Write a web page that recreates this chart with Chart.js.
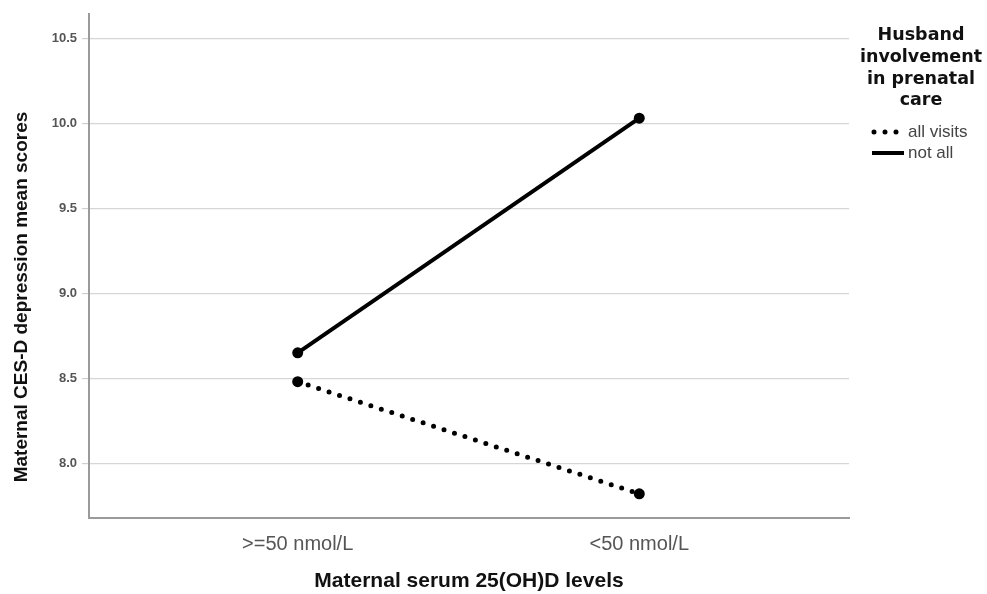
<!DOCTYPE html>
<html>
<head>
<meta charset="utf-8">
<script src="https://cdn.jsdelivr.net/npm/chart.js@4.4.1/dist/chart.umd.min.js"></script>
<style>
  html, body { margin: 0; padding: 0; background: #ffffff; }
  #wrap { width: 987px; height: 594px; }
</style>
</head>
<body>
<div id="wrap"><canvas id="c" width="987" height="594"></canvas></div>
<script>
// ---- data ----
const categories = ['>=50 nmol/L', '<50 nmol/L'];
const seriesNames = ['all visits', 'not all'];
const allVisits = [8.48, 7.82];
const notAll = [8.65, 10.03];
const yTicks = [8.0, 8.5, 9.0, 9.5, 10.0, 10.5];
const legendTitle = ['Husband', 'involvement', 'in prenatal', 'care'];
const xTitle = 'Maternal serum 25(OH)D levels';
const yTitle = 'Maternal CES-D depression mean scores';

const toPoints = arr => arr.map((v, i) => ({ x: i, y: v }));

const dottedStyle = { borderDash: [0, 11], borderWidth: 5, borderCapStyle: 'round' };
const solidStyle = { borderDash: [], borderWidth: 4, borderCapStyle: 'butt' };

const customText = {
  id: 'customText',
  afterDraw(chart) {
    const ctx = chart.ctx;
    // y-axis title
    ctx.save();
    ctx.translate(22, 297);
    ctx.rotate(-Math.PI / 2);
    ctx.font = 'bold 19px "Liberation Sans", Arial, sans-serif';
    ctx.fillStyle = '#111';
    ctx.textAlign = 'center';
    ctx.textBaseline = 'middle';
    ctx.fillText(yTitle, 0, 0);
    ctx.restore();

    // legend
    ctx.save();
    ctx.font = 'bold 17.5px "DejaVu Sans", Verdana, sans-serif';
    ctx.fillStyle = '#111';
    ctx.textAlign = 'center';
    ctx.textBaseline = 'middle';
    const titleY = [35, 57, 79, 100];
    legendTitle.forEach((t, i) => ctx.fillText(t, 921, titleY[i]));

    const itemY = [132, 153];
    const styles = [dottedStyle, solidStyle];
    chart.data.datasets.forEach((ds, i) => {
      const st = styles[i];
      ctx.save();
      ctx.strokeStyle = '#000';
      ctx.lineWidth = st.borderWidth;
      ctx.lineCap = st.borderCapStyle;
      ctx.setLineDash(st.borderDash);
      ctx.beginPath();
      if (i === 0) {
        ctx.moveTo(874, itemY[i]); ctx.lineTo(903, itemY[i]);
      } else {
        ctx.moveTo(872, itemY[i]); ctx.lineTo(904, itemY[i]);
      }
      ctx.stroke();
      ctx.restore();
      ctx.font = '17px "Liberation Sans", Arial, sans-serif';
      ctx.fillStyle = '#444';
      ctx.textAlign = 'left';
      ctx.textBaseline = 'middle';
      ctx.fillText(ds.label, 908, itemY[i]);
    });
    ctx.restore();
  }
};

new Chart(document.getElementById('c'), {
  type: 'line',
  data: {
    datasets: [
      Object.assign({
        label: seriesNames[0],
        data: toPoints(allVisits),
        borderColor: '#000',
        backgroundColor: '#000',
        pointRadius: 5.5,
        pointBorderWidth: 0,
        pointBackgroundColor: '#000',
        tension: 0,
        fill: false
      }, dottedStyle),
      Object.assign({
        label: seriesNames[1],
        data: toPoints(notAll),
        borderColor: '#000',
        backgroundColor: '#000',
        pointRadius: 5.5,
        pointBorderWidth: 0,
        pointBackgroundColor: '#000',
        tension: 0,
        fill: false
      }, solidStyle)
    ]
  },
  options: {
    responsive: false,
    animation: false,
    layout: { padding: { top: 14, right: 138, left: 0, bottom: 0 } },
    plugins: { legend: { display: false }, tooltip: { enabled: false } },
    scales: {
      x: {
        type: 'linear',
        min: -0.611,
        max: 1.614,
        afterBuildTicks: s => { s.ticks = categories.map((c, i) => ({ value: i })); },
        afterFit: s => { s.height = 76; },
        grid: { display: true, drawOnChartArea: false, drawTicks: false },
        border: { display: true, color: '#9a9a9a', width: 2 },
        ticks: {
          padding: 14,
          color: '#555',
          font: { family: '"Liberation Sans", Arial, sans-serif', size: 20 },
          callback: v => categories[v] ?? ''
        },
        title: {
          display: true,
          text: xTitle,
          color: '#111',
          font: { family: '"Liberation Sans", Arial, sans-serif', size: 21, weight: 'bold' },
          padding: { top: 0, bottom: 0 }
        }
      },
      y: {
        type: 'linear',
        min: 7.678,
        max: 10.643,
        afterBuildTicks: s => { s.ticks = yTicks.map(v => ({ value: v })); },
        afterFit: s => { s.width = 89; },
        grid: { color: '#d6d6d6', lineWidth: 1.2, drawTicks: true, tickLength: 7, tickColor: '#cfcfcf' },
        border: { display: true, color: '#9a9a9a', width: 2 },
        ticks: {
          padding: 5,
          color: '#555',
          font: { family: '"Liberation Sans", Arial, sans-serif', size: 13, weight: 'bold' },
          callback: v => Number(v).toFixed(1)
        }
      }
    }
  },
  plugins: [customText]
});
</script>
</body>
</html>
